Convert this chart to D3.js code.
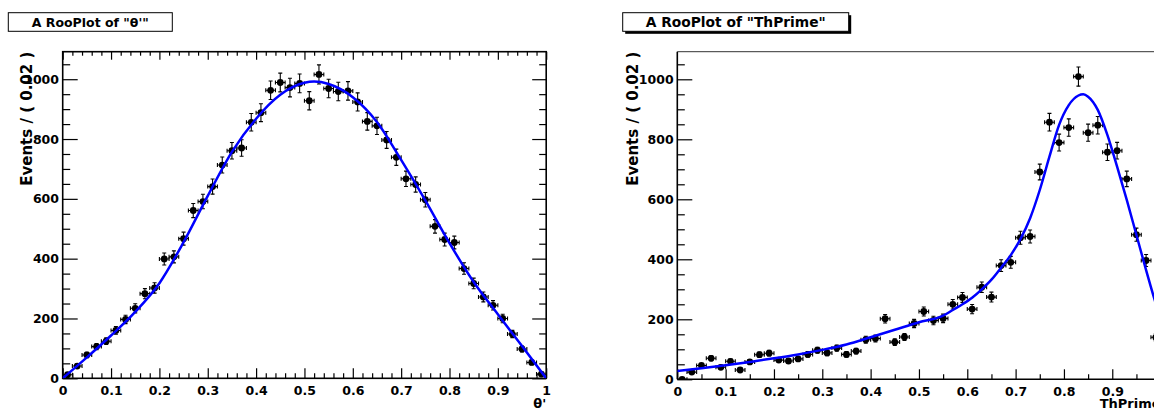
<!DOCTYPE html>
<html>
<head>
<meta charset="utf-8">
<script src="https://cdn.jsdelivr.net/npm/d3@7"></script>
<style>
  body { margin: 0; background: #fff; overflow: hidden; }
  svg text { font-family: "DejaVu Sans", sans-serif; font-weight: bold; fill: #000; }
</style>
</head>
<body>
<svg id="chart" width="1154" height="408"></svg>
<script>
// ---- data -------------------------------------------------------------
// bin centres (bin width 0.02 on [0,1])
const binCenters = [0.01,0.03,0.05,0.07,0.09,0.11,0.13,0.15,0.17,0.19,
                    0.21,0.23,0.25,0.27,0.29,0.31,0.33,0.35,0.37,0.39,
                    0.41,0.43,0.45,0.47,0.49,0.51,0.53,0.55,0.57,0.59,
                    0.61,0.63,0.65,0.67,0.69,0.71,0.73,0.75,0.77,0.79,
                    0.81,0.83,0.85,0.87,0.89,0.91,0.93,0.95,0.97,0.99];

// events per bin, theta' dataset
const thetaCounts = [12,41,78,106,124,160,197,234,283,302,
                     399,406,467,561,591,641,713,761,770,856,
                     888,963,989,972,986,928,1016,969,959,961,
                     924,859,844,797,739,667,648,597,508,464,
                     454,367,317,272,244,200,148,98,53,14];

// events per bin, ThPrime dataset
const thprimeCounts = [0,24,46,70,40,60,31,58,82,87,
                       64,61,68,83,97,88,104,83,94,132,
                       136,202,124,141,186,226,196,203,250,273,
                       234,307,274,379,390,472,476,691,857,789,
                       839,1009,822,847,757,762,668,482,396,140];

// fitted pdf curves, sampled
const thetaCurveX = [0,0.05,0.10,0.15,0.20,0.25,0.30,0.35,0.40,0.45,0.50,0.52,0.55,0.60,0.65,0.70,0.75,0.80,0.85,0.90,0.95,1.00];
const thetaCurveY = [0,70,143,222,318,455,610,757,868,948,988,992,984,940,857,730,595,452,322,214,108,0];

const thprimeCurveX = [0,0.05,0.10,0.15,0.20,0.25,0.30,0.35,0.40,0.45,0.50,0.55,0.57,0.59,0.61,0.63,0.65,0.67,0.69,0.71,0.73,0.75,0.77,0.79,0.81,0.83,0.84,0.85,0.87,0.89,0.91,0.93,0.95,0.97,0.99,1.00];
const thprimeCurveY = [28,37,47,58,70,83,98,116,140,165,190,212,231,250,272,300,332,372,414,467,537,631,742,848,914,946,950,942,898,814,709,598,481,364,253,205];

// axis ticks
const xMajorTicks = [0,0.1,0.2,0.3,0.4,0.5,0.6,0.7,0.8,0.9,1];
const xTickLabels = ["0","0.1","0.2","0.3","0.4","0.5","0.6","0.7","0.8","0.9","1"];
const yMajorTicks = [0,200,400,600,800,1000];
const yTickLabels = ["0","200","400","600","800","1000"];

const halfBin = 0.01;
const yMax = 1092;

// ---- panels -----------------------------------------------------------
const panels = [
  {
    id: "theta", counts: thetaCounts, cx: thetaCurveX, cy: thetaCurveY,
    x0: 62.7, x1: 546.2, yB: 378.3, yT: 51.7,
    title: "A RooPlot of \"θ'\"", titleSize: 12.8, titleLen: 117,
    box: [8.3, 12.7, 164, 18.6], shadow: 0, titleBase: 26.7,
    xMinorStep: 0.02, xTitle: "θ'", yTitleX: 31.7,
    fullFrame: true
  },
  {
    id: "thprime", counts: thprimeCounts, cx: thprimeCurveX, cy: thprimeCurveY,
    x0: 677.3, x1: 1160.6, yB: 379.3, yT: 51.7,
    title: "A RooPlot of \"ThPrime\"", titleSize: 13.8, titleLen: 180,
    box: [622.7, 12.7, 226, 18.6], shadow: 2.5, titleBase: 27.3,
    xMinorStep: 0.05, xTitle: "ThPrime", yTitleX: 637.7,
    fullFrame: false
  }
];

const svg = d3.select("#chart");
const defs = svg.append("defs");

panels.forEach(p => {
  const g = svg.append("g").attr("class", "panel-" + p.id);
  const x = d3.scaleLinear().domain([0, 1]).range([p.x0, p.x1]);
  const y = d3.scaleLinear().domain([0, yMax]).range([p.yB, p.yT]);

  const xMinor = d3.range(0, 1 + 1e-9, p.xMinorStep).filter(v => Math.abs(v * 10 - Math.round(v * 10)) > 1e-6);
  const yMinor = d3.range(0, yMax, 50).filter(v => v % 200 !== 0);

  // title box
  if (p.shadow > 0) {
    g.append("rect")
      .attr("x", p.box[0] + p.shadow).attr("y", p.box[1] + p.shadow)
      .attr("width", p.box[2]).attr("height", p.box[3])
      .attr("fill", "#000");
  }
  g.append("rect")
    .attr("x", p.box[0]).attr("y", p.box[1])
    .attr("width", p.box[2]).attr("height", p.box[3])
    .attr("fill", "#fff").attr("stroke", "#000").attr("stroke-width", 1);
  g.append("text")
    .attr("x", p.box[0] + p.box[2] / 2).attr("y", p.titleBase)
    .attr("text-anchor", "middle")
    .attr("font-size", p.titleSize)
    .attr("textLength", p.titleLen).attr("lengthAdjust", "spacingAndGlyphs")
    .text(p.title);

  // clip for data and curve
  defs.append("clipPath").attr("id", "clip-" + p.id)
    .append("rect").attr("x", p.x0).attr("y", p.yT)
    .attr("width", p.x1 - p.x0).attr("height", p.yB - p.yT);

  const styleAxis = (sel, sw) => {
    sel.select(".domain").remove();
    sel.selectAll(".tick line").attr("stroke", "#000").attr("stroke-width", sw);
    sel.selectAll("text").attr("font-size", 12.5).attr("font-family", null).attr("fill", "#000");
    sel.attr("font-family", null).attr("font-size", null);
  };

  // bottom axis: ticks point inward (up)
  g.append("g").attr("transform", `translate(0,${p.yB})`)
    .call(d3.axisBottom(x).tickValues(xMajorTicks)
      .tickFormat((d, i) => xTickLabels[i]).tickSizeInner(-10).tickSizeOuter(0).tickPadding(7.7))
    .call(s => styleAxis(s, 1.2));
  g.append("g").attr("transform", `translate(0,${p.yB})`)
    .call(d3.axisBottom(x).tickValues(xMinor).tickFormat("").tickSizeInner(-5).tickSizeOuter(0))
    .call(s => styleAxis(s, 1.2));

  // left axis: ticks point inward (right)
  g.append("g").attr("transform", `translate(${p.x0},0)`)
    .call(d3.axisLeft(y).tickValues(yMajorTicks)
      .tickFormat((d, i) => yTickLabels[i]).tickSizeInner(-15).tickSizeOuter(0).tickPadding(3.7))
    .call(s => styleAxis(s, 1.2));
  g.append("g").attr("transform", `translate(${p.x0},0)`)
    .call(d3.axisLeft(y).tickValues(yMinor).tickFormat("").tickSizeInner(-7.5).tickSizeOuter(0))
    .call(s => styleAxis(s, 1.2));

  if (p.fullFrame) {
    // top axis, ticks pointing down
    g.append("g").attr("transform", `translate(0,${p.yT})`)
      .call(d3.axisTop(x).tickValues(xMajorTicks).tickFormat("").tickSizeInner(-8).tickSizeOuter(0))
      .call(s => styleAxis(s, 1.2));
    g.append("g").attr("transform", `translate(0,${p.yT})`)
      .call(d3.axisTop(x).tickValues(xMinor).tickFormat("").tickSizeInner(-4).tickSizeOuter(0))
      .call(s => styleAxis(s, 1.2));
    // right axis, ticks pointing left
    g.append("g").attr("transform", `translate(${p.x1},0)`)
      .call(d3.axisRight(y).tickValues(yMajorTicks).tickFormat("").tickSizeInner(-14).tickSizeOuter(0))
      .call(s => styleAxis(s, 1.2));
    g.append("g").attr("transform", `translate(${p.x1},0)`)
      .call(d3.axisRight(y).tickValues(yMinor).tickFormat("").tickSizeInner(-7).tickSizeOuter(0))
      .call(s => styleAxis(s, 1.2));
    g.append("rect")
      .attr("x", p.x0).attr("y", p.yT)
      .attr("width", p.x1 - p.x0).attr("height", p.yB - p.yT)
      .attr("fill", "none").attr("stroke", "#000").attr("stroke-width", 1.6);
  } else {
    g.append("line").attr("x1", p.x0).attr("x2", p.x1).attr("y1", p.yT).attr("y2", p.yT)
      .attr("stroke", "#333").attr("stroke-width", 1);
    g.append("line").attr("x1", p.x0).attr("x2", p.x1).attr("y1", p.yB).attr("y2", p.yB)
      .attr("stroke", "#000").attr("stroke-width", 1.6);
    g.append("line").attr("x1", p.x0).attr("x2", p.x0).attr("y1", p.yT).attr("y2", p.yB)
      .attr("stroke", "#000").attr("stroke-width", 1.6);
  }

  // axis titles
  g.append("text")
    .attr("x", p.x1).attr("y", 408)
    .attr("text-anchor", "end").attr("font-size", 13)
    .text(p.xTitle);
  g.append("text")
    .attr("transform", `translate(${p.yTitleX},${p.yT}) rotate(-90)`)
    .attr("text-anchor", "end").attr("font-size", 15)
    .text("Events / ( 0.02 )");

  // data points with error bars
  const pts = g.append("g").attr("clip-path", `url(#clip-${p.id})`);
  const cap = 2;
  binCenters.forEach((c, i) => {
    const v = p.counts[i];
    const e = Math.sqrt(v);
    const px = x(c), py = y(v);
    const pg = pts.append("g").attr("stroke", "#000").attr("stroke-width", 1.1);
    // horizontal bar (bin width) with end caps
    pg.append("line").attr("x1", x(c - halfBin)).attr("x2", x(c + halfBin)).attr("y1", py).attr("y2", py);
    pg.append("line").attr("x1", x(c - halfBin)).attr("x2", x(c - halfBin)).attr("y1", py - cap).attr("y2", py + cap);
    pg.append("line").attr("x1", x(c + halfBin)).attr("x2", x(c + halfBin)).attr("y1", py - cap).attr("y2", py + cap);
    if (e > 0) {
      pg.append("line").attr("x1", px).attr("x2", px).attr("y1", y(v - e)).attr("y2", y(v + e));
      pg.append("line").attr("x1", px - cap).attr("x2", px + cap).attr("y1", y(v + e)).attr("y2", y(v + e));
      pg.append("line").attr("x1", px - cap).attr("x2", px + cap).attr("y1", y(v - e)).attr("y2", y(v - e));
    }
    pts.append("circle").attr("cx", px).attr("cy", py).attr("r", 3.4).attr("fill", "#000");
  });

  // fitted pdf curve
  const line = d3.line()
    .x((d, i) => x(p.cx[i]))
    .y(d => y(d))
    .curve(d3.curveMonotoneX);
  g.append("path")
    .attr("clip-path", `url(#clip-${p.id})`)
    .attr("d", line(p.cy))
    .attr("fill", "none").attr("stroke", "#0000ff").attr("stroke-width", 2.5);
});
</script>
</body>
</html>
